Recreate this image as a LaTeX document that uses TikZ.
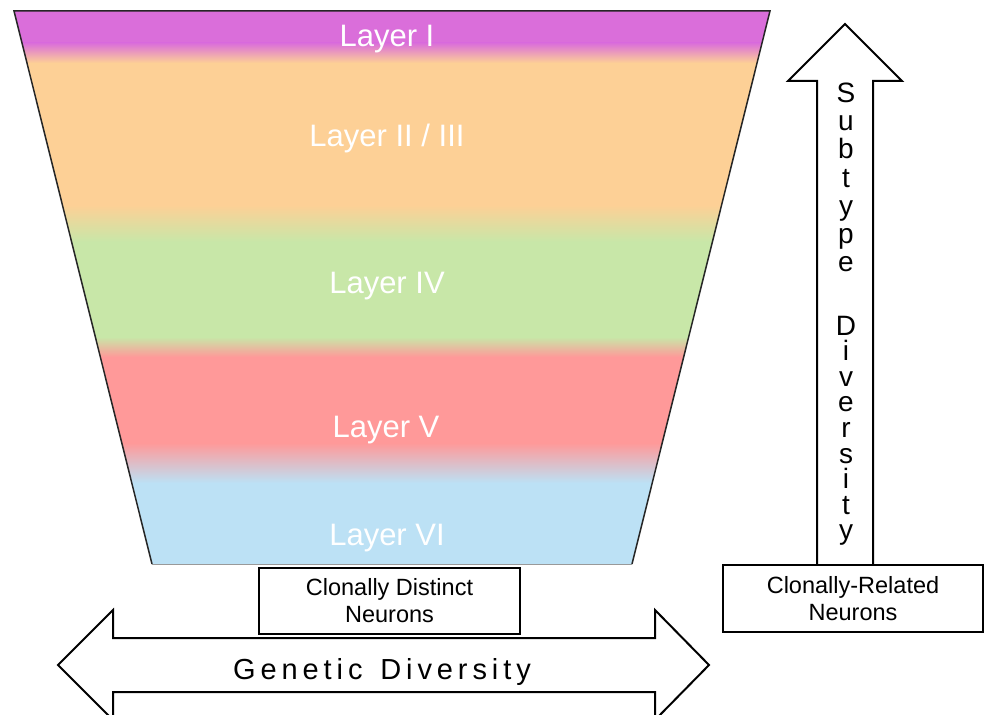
\documentclass[tikz,border=0pt]{standalone}
\usepackage{fontspec}
\setmainfont{Liberation Sans}
\definecolor{lpurple}{RGB}{218,110,218}
\definecolor{lorange}{RGB}{253,208,150}
\definecolor{lgreen}{RGB}{200,231,168}
\definecolor{lred}{RGB}{255,153,153}
\definecolor{lblue}{RGB}{188,225,245}
\newcommand\gk{\kern4.9pt}
\begin{document}
\begin{tikzpicture}[x=1pt,y=-1pt,
  layerlabel/.style={text=white, font=\fontsize{31}{36}\selectfont, anchor=base, inner sep=0pt},
  neuronbox/.style={draw=black, line width=2pt, fill=white, align=center, inner sep=0pt,
    font=\fontsize{23.5}{27}\selectfont},
  bigarrow/.style={draw=black, line width=2pt, fill=white, line join=miter},
  vletter/.style={font=\fontsize{28}{28}\selectfont, anchor=base, inner sep=0pt}]

\useasboundingbox (0,0) rectangle (984,714);
\fill[white] (0,0) rectangle (984,714);
\clip (0,0) rectangle (984,714);

% cortex layers
\begin{scope}
  \clip (14,11) -- (770,11) -- (632,564) -- (152,564) -- cycle;
  \fill[lpurple] (0,0) rectangle (984,44);
  \fill[lorange] (0,62) rectangle (984,206);
  \fill[lgreen] (0,241) rectangle (984,338);
  \fill[lred] (0,356) rectangle (984,444);
  \fill[lblue] (0,482) rectangle (984,600);
  \shade[top color=lpurple, bottom color=lorange] (0,43) rectangle (984,63);
  \shade[top color=lorange, bottom color=lgreen] (0,205) rectangle (984,242);
  \shade[top color=lgreen, bottom color=lred] (0,337) rectangle (984,357);
  \shade[top color=lred, bottom color=lblue] (0,443) rectangle (984,483);
\end{scope}
\draw[line width=1.5pt, black!85, line join=miter] (152,564) -- (14,11) -- (770,11) -- (632,564);
\draw[line width=1pt, black!40] (152,564) -- (632,564);

\node[layerlabel] (l1) at (387,47) {Layer I};
\node[layerlabel] (l23) at (387,147) {Layer II / III};
\node[layerlabel] (l4) at (387,293) {Layer IV};
\node[layerlabel] (l5) at (386,437) {Layer V};
\node[layerlabel] (l6) at (387,545) {Layer VI};

% genetic diversity double arrow
\draw[bigarrow] (58,665) -- (113,610) -- (113,638) -- (655,638) -- (655,610) -- (709,665)
  -- (655,720) -- (655,692) -- (113,692) -- (113,720) -- cycle;
\node[font=\fontsize{29}{29}\selectfont, anchor=base, inner sep=0pt] (gd) at (382,679)
  {G\gk e\gk n\gk e\gk t\gk i\gk c\gk\ \gk D\gk i\gk v\gk e\gk r\gk s\gk i\gk t\gk y};

\node[neuronbox, minimum width=261pt, minimum height=66pt] (cd) at (389.5,601)
  {Clonally Distinct\\Neurons};

% subtype diversity arrow
\draw[bigarrow] (845,24) -- (902,81) -- (873,81) -- (873,566) -- (817,566) -- (817,81) -- (788,81) -- cycle;
\foreach \ch [count=\i from 0] in {S,u,b,t,y,p,e}
  \node[vletter] (st\i) at (846,{103+28*\i}) {\ch};
\foreach \ch [count=\i from 0] in {D,i,v,e,r,s,i,t,y}
  \node[vletter] (dv\i) at (846,{335+25.6*\i}) {\ch};

\node[neuronbox, minimum width=260pt, minimum height=67pt] (cr) at (853,598.5)
  {Clonally-Related\\Neurons};
\end{tikzpicture}
\end{document}
